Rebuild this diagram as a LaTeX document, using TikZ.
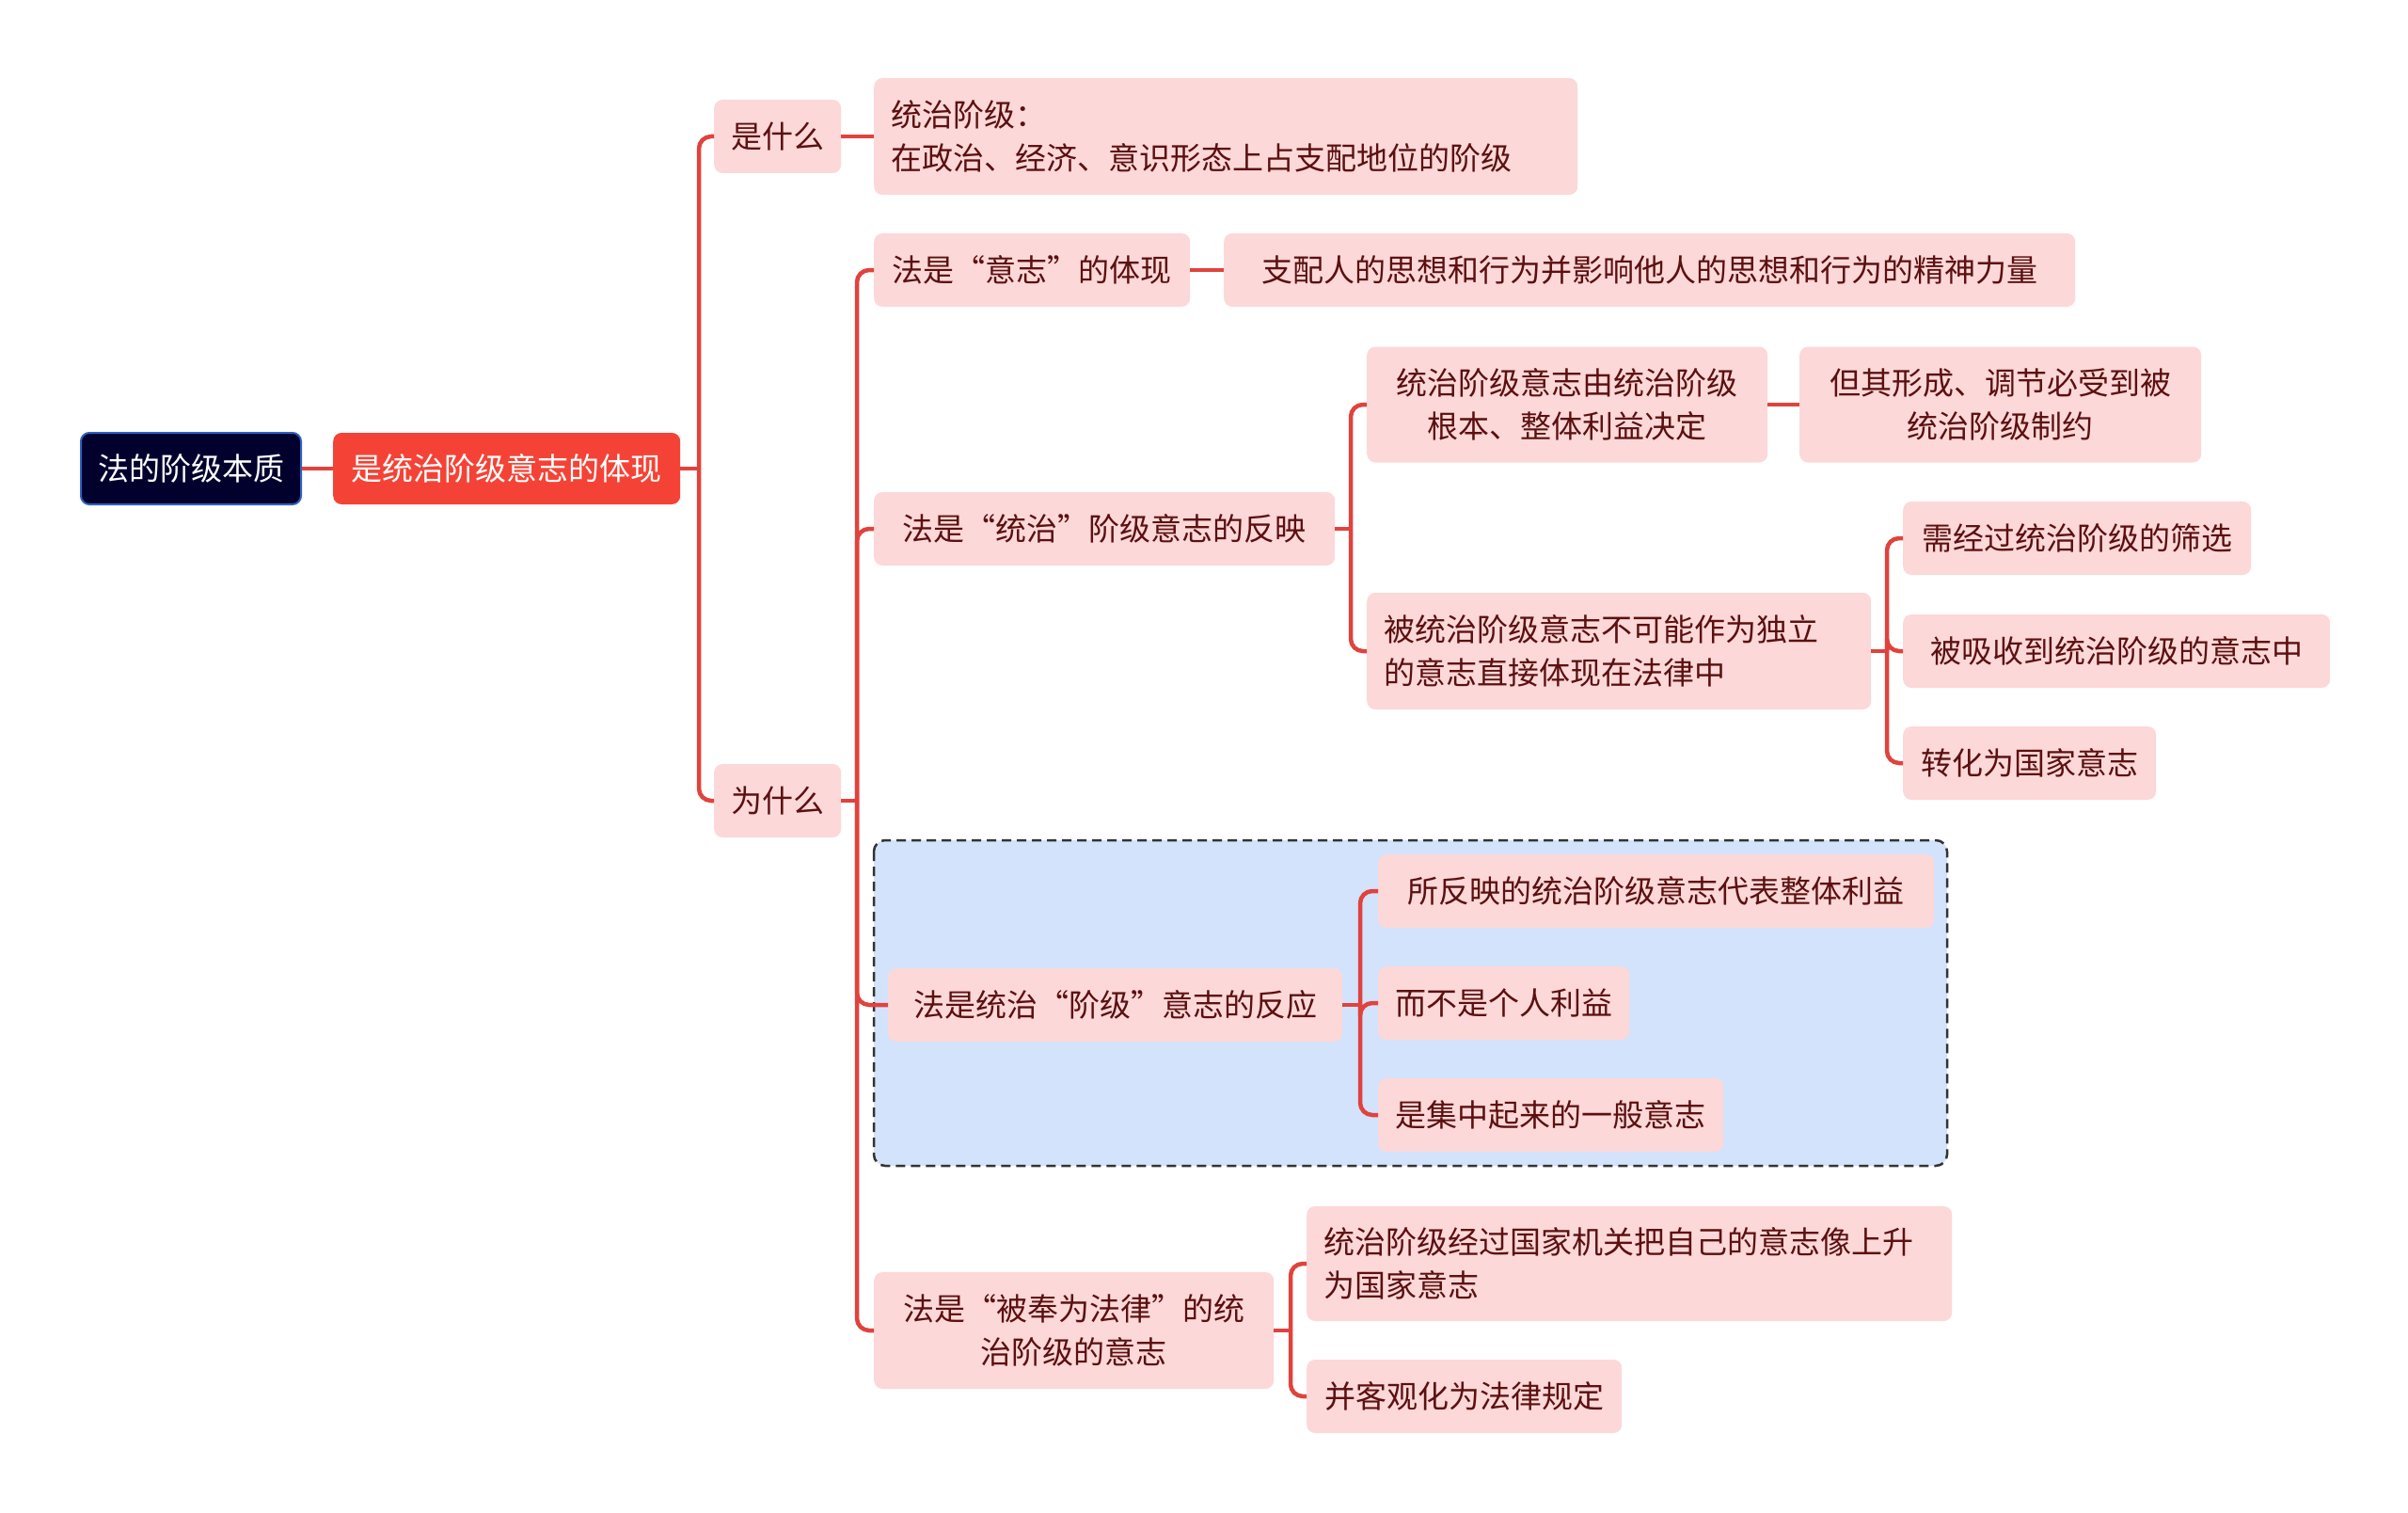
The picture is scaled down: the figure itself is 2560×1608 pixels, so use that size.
\documentclass[tikz,border=0pt]{standalone}
\usepackage{fontspec}
\newfontfamily\cjk{Noto Sans CJK SC}
\newcommand\qL{{\addfontfeatures{RawFeature=+fwid}“}}
\newcommand\qR{{\addfontfeatures{RawFeature=+fwid}”}}
\definecolor{pinkfill}{HTML}{FCD8D8}
\definecolor{darktext}{HTML}{5C1010}
\definecolor{linered}{HTML}{E0433D}
\definecolor{rootfill}{HTML}{02012E}
\definecolor{rootborder}{HTML}{2F5FC0}
\definecolor{lonefill}{HTML}{F44336}
\definecolor{bluefill}{HTML}{D3E3FC}
\tikzset{
  pbox/.style={fill=pinkfill, text=darktext, rounded corners=9pt, anchor=west,
    minimum height=78pt, inner xsep=18pt, inner ysep=8pt, align=center,
    font={\cjk\fontsize{33}{46}\selectfont}},
  rootbox/.style={pbox, fill=rootfill, draw=rootborder, line width=2pt, text=white},
  lonebox/.style={pbox, fill=lonefill, text=white},
  conn/.style={draw=linered, line width=4.5pt, rounded corners=13pt},
  grp/.style={fill=bluefill, draw=black!80, line width=2.5pt, dash pattern=on 10pt off 6pt, rounded corners=12pt}
}
\begin{document}
\begin{tikzpicture}[x=1pt,y=-1pt]
\useasboundingbox[fill=white] (0,0) rectangle (2560,1608);
% group box
\path[grp] (929,893) rectangle (2070,1239);
% nodes
\node[rootbox, minimum width=232pt, minimum height=76pt] (root) at (85,498) {法的阶级本质};
\node[lonebox, minimum width=369pt, minimum height=76pt] (l1) at (354,498) {是统治阶级意志的体现};
\node[pbox, minimum width=134pt] (shi) at (759,145) {是什么};
\node[pbox, minimum width=134pt] (wei) at (759,851) {为什么};
\node[pbox, minimum width=748pt, minimum height=124pt, text width=712pt, align=left] (def) at (929,145) {统治阶级：\\在政治、经济、意识形态上占支配地位的阶级};
\node[pbox, minimum width=336pt] (yz) at (929,287) {法是\qL 意志\qR 的体现};
\node[pbox, minimum width=905pt] (zp) at (1301,287) {支配人的思想和行为并影响他人的思想和行为的精神力量};
\node[pbox, minimum width=490pt] (tz) at (929,562) {法是\qL 统治\qR 阶级意志的反映};
\node[pbox, minimum width=426pt, minimum height=123pt] (tza) at (1453,430) {统治阶级意志由统治阶级\\根本、整体利益决定};
\node[pbox, minimum width=427pt, minimum height=123pt] (tzaa) at (1913,430) {但其形成、调节必受到被\\统治阶级制约};
\node[pbox, minimum width=536pt, minimum height=124pt, text width=500pt, align=left] (tzb) at (1453,692) {被统治阶级意志不可能作为独立\\的意志直接体现在法律中};
\node[pbox, minimum width=370pt] (tzb1) at (2023,572) {需经过统治阶级的筛选};
\node[pbox, minimum width=454pt] (tzb2) at (2023,692) {被吸收到统治阶级的意志中};
\node[pbox, minimum width=269pt] (tzb3) at (2023,811) {转化为国家意志};
\node[pbox, minimum width=483pt] (jj) at (944,1068) {法是统治\qL 阶级\qR 意志的反应};
\node[pbox, minimum width=591pt] (jj1) at (1465,947) {所反映的统治阶级意志代表整体利益};
\node[pbox, minimum width=267pt] (jj2) at (1465,1066) {而不是个人利益};
\node[pbox, minimum width=367pt] (jj3) at (1465,1185) {是集中起来的一般意志};
\node[pbox, minimum width=425pt, minimum height=124pt] (fl) at (929,1414) {法是\qL 被奉为法律\qR 的统\\治阶级的意志};
\node[pbox, minimum width=686pt, minimum height=122pt, text width=650pt, align=left] (fla) at (1389,1343) {统治阶级经过国家机关把自己的意志像上升\\为国家意志};
\node[pbox, minimum width=335pt] (flb) at (1389,1484) {并客观化为法律规定};
% trunk coordinates
\coordinate (t1) at (743,498);
\coordinate (t2) at (911,851);
\coordinate (t3) at (1436,562);
\coordinate (t4) at (2006,692);
\coordinate (t5) at (1446,1068);
\coordinate (t6) at (1372,1414);
% connectors
\draw[conn] (root.east) -- (l1.west);
\draw[conn] (l1.east) -- (t1);
\draw[conn] (t1) |- (shi.west);
\draw[conn] (t1) |- (wei.west);
\draw[conn] (shi.east) -- (shi.east -| def.west);
\draw[conn] (wei.east) -- (t2);
\draw[conn] (t2) |- (yz.west);
\draw[conn] (t2) |- (tz.west);
\draw[conn] (t2) |- (jj.west);
\draw[conn] (t2) |- (fl.west);
\draw[conn] (yz.east) -- (zp.west);
\draw[conn] (tz.east) -- (t3);
\draw[conn] (t3) |- (tza.west);
\draw[conn] (t3) |- (tzb.west);
\draw[conn] (tza.east) -- (tzaa.west);
\draw[conn] (tzb.east) -- (t4);
\draw[conn] (t4) |- (tzb1.west);
\draw[conn] (t4) |- (tzb2.west);
\draw[conn] (t4) |- (tzb3.west);
\draw[conn] (jj.east) -- (t5);
\draw[conn] (t5) |- (jj1.west);
\draw[conn] (t5) |- (jj2.west);
\draw[conn] (t5) |- (jj3.west);
\draw[conn] (fl.east) -- (t6);
\draw[conn] (t6) |- (fla.west);
\draw[conn] (t6) |- (flb.west);
\end{tikzpicture}
\end{document}
